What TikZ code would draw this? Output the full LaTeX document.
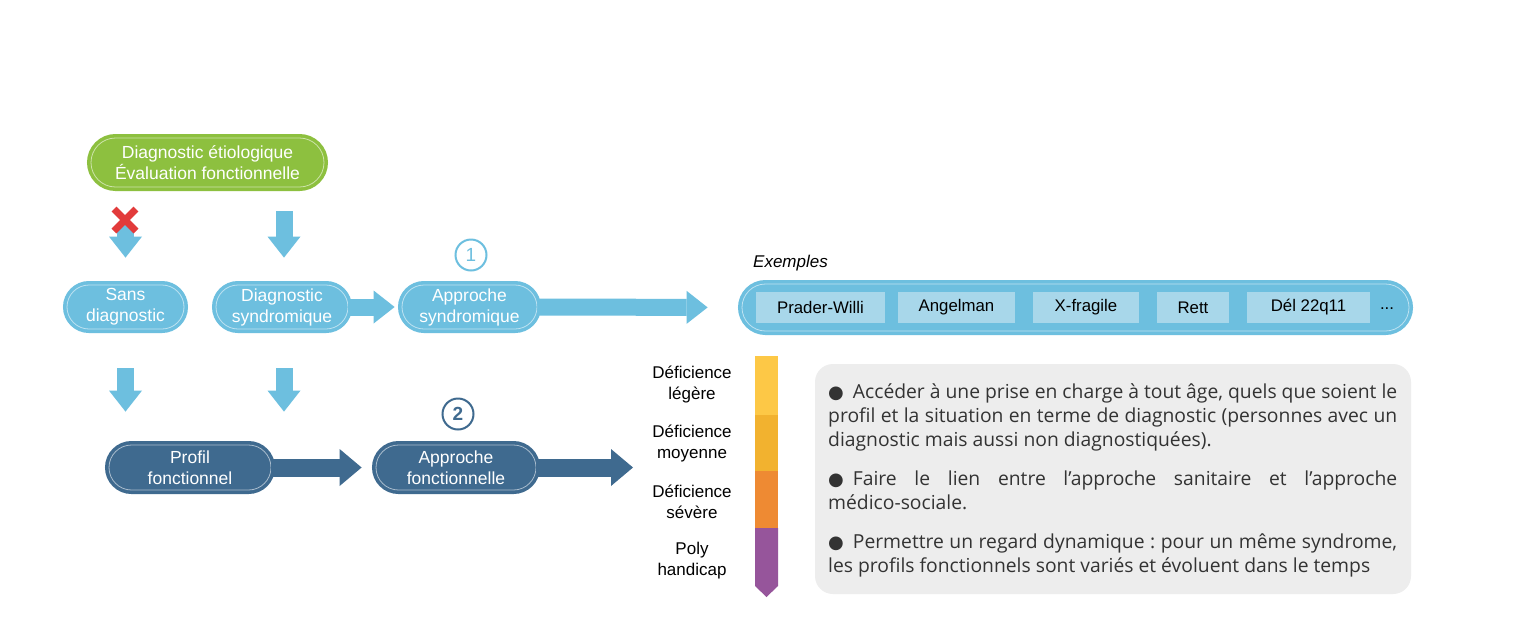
\documentclass[tikz,border=0pt]{standalone}
\usepackage{fontspec}
\setmainfont{Liberation Sans}
\newfontfamily\opensans{Open Sans}
\newfontfamily\dejavu{DejaVu Sans}
\usetikzlibrary{shapes.misc,arrows.meta,calc}
\definecolor{lblue}{HTML}{6DBFDF}
\definecolor{dblue}{HTML}{3F6A8F}
\definecolor{lgreen}{HTML}{8DC03F}
\definecolor{ibox}{HTML}{A8D7EA}
\definecolor{gbox}{HTML}{EDEDED}
\definecolor{xred}{HTML}{E23B3B}
\definecolor{cyel}{HTML}{FDC846}
\definecolor{cgold}{HTML}{F2B22F}
\definecolor{corange}{HTML}{EE8A33}
\definecolor{cpurple}{HTML}{96559B}
\definecolor{txt}{HTML}{333333}
\newcommand\mybullet{{\dejavu\fontsize{18}{18}\selectfont ●}\hspace{9pt}}
\frenchspacing
\begin{document}
\begin{tikzpicture}[x=1pt,y=-1pt,
  pill/.style={rounded rectangle, fill=#1, draw=white!55!#1, line width=0.8pt,
    preaction={draw=#1, line width=8pt}, text=white, align=center,
    font=\fontsize{17.5}{21}\selectfont, inner sep=0pt},
  item/.style={fill=ibox, minimum height=31pt, inner sep=0pt, text=black,
    font=\fontsize{16.8}{19}\selectfont},
  larr/.style={draw=lblue, line width=17pt, -{Triangle[width=33pt,length=21pt,line width=0pt]}},
  darr/.style={draw=dblue, line width=18pt, -{Triangle[width=37pt,length=22pt,line width=0pt]}},
  deflab/.style={align=center, text=black, font=\fontsize{17}{21}\selectfont, inner sep=0pt},
  num/.style={circle, fill=white, line width=2pt, minimum size=31pt, inner sep=0pt,
    font=\fontsize{19}{19}\selectfont}
]
\useasboundingbox[fill=white] (0,0) rectangle (1524,633);

% boxes
\node[pill=lgreen, minimum width=233pt, minimum height=49pt] (g) at (207.5,162.5)
  {Diagnostic étiologique\\Évaluation fonctionnelle};
\node[pill=lblue, minimum width=117pt, minimum height=44pt] (sans) at (125.5,307) {Sans\\diagnostic};
\node[pill=lblue, minimum width=132pt, minimum height=44pt] (dsynd) at (282,307) {Diagnostic\\syndromique};
\node[pill=lblue, minimum width=135pt, minimum height=44pt] (asynd) at (469.5,307) {Approche\\syndromique};
\node[pill=dblue, minimum width=162pt, minimum height=45pt] (profil) at (190,467.5) {Profil\\fonctionnel};
\node[pill=dblue, minimum width=160pt, minimum height=45pt] (afonct) at (456,467.5) {Approche\\fonctionnelle};

% numbers
\node[num, draw=lblue, text=lblue] (n1) at (471,255) {1};
\node[num, draw=dblue, text=dblue] (n2) at (458,414) {\textbf{2}};

% examples
\node[anchor=west, inner sep=0pt, font=\fontsize{17}{20}\selectfont\itshape] (exl) at (753,263) {Exemples};
\node[pill=lblue, minimum width=667pt, minimum height=47pt] (ex) at (1075.5,307.5) {};
\node[item, minimum width=129pt] (pw) at (820.5,307.5) {Prader-Willi};
\node[item, minimum width=117pt] (an) at (956.5,307.5) {Angelman};
\node[item, minimum width=106pt] (xf) at (1086,307.5) {X-fragile};
\node[item, minimum width=72pt] (rt) at (1193,307.5) {Rett};
\node[item, minimum width=123pt] (dl) at (1308.5,307.5) {Dél 22q11};
\node[inner sep=0pt, text=black, font=\fontsize{16.8}{19}\selectfont] (dots) at (1387,309) {...};

% arrows
\draw[larr, shorten <=38pt, shorten >=27pt] (sans.north |- g.south) -- (sans.north);
\draw[larr, shorten <=24pt, shorten >=27pt] ([xshift=2pt]dsynd.north |- g.south) -- ([xshift=2pt]dsynd.north);
\draw[larr, shorten >=7pt] (dsynd.east) -- (asynd.west);
\draw[larr, shorten >=34pt] (asynd.east) -- (ex.west);
\draw[larr, shorten <=39pt, shorten >=33pt] (sans.south) -- (sans.south |- profil.north);
\draw[larr, shorten <=39pt, shorten >=33pt] ([xshift=2pt]dsynd.south) -- ([xshift=2pt]dsynd.south |- profil.north);
\draw[darr, shorten >=14pt] (profil.east) -- (afonct.west);
\coordinate (tipf) at (633,467.5);
\draw[darr] (afonct.east) -- (tipf);

% red cross
\draw[xred, line width=7pt] (114,209) -- (136,231);
\draw[xred, line width=7pt] (136,209) -- (114,231);

% severity labels
\node[deflab] (d1) at (692,384) {Déficience\\légère};
\node[deflab] (d2) at (692,443) {Déficience\\moyenne};
\node[deflab] (d3) at (692,502) {Déficience\\sévère};
\node[deflab] (d4) at (692,561) {Poly\\handicap};

% colour bar
\fill[cyel] (755,356) rectangle (778,415);
\fill[cgold] (755,415) rectangle (778,471);
\fill[corange] (755,471) rectangle (778,528);
\fill[cpurple] (755,528) -- (778,528) -- (778,586) -- (766.5,597) -- (755,586) -- cycle;

% grey box
\node[fill=gbox, rounded corners=18pt, minimum width=596pt, minimum height=230pt, inner sep=0pt] (gb) at (1113,479) {};
\node[anchor=north west, inner sep=0pt, text=txt, text width=569pt, align=left,
  font=\opensans\fontsize{19.3}{24}\selectfont] (body) at (828,384) {%
\spaceskip=0pt\xspaceskip=0pt\relax
\makebox[569pt][s]{\mybullet Accéder à une prise en charge à tout âge, quels que soient le}\\
\makebox[569pt][s]{profil et la situation en terme de diagnostic (personnes avec un}\\
diagnostic mais aussi non diagnostiquées).\\[15pt]
\makebox[569pt][s]{\mybullet Faire le lien entre l’approche sanitaire et l’approche}\\
médico-sociale.\\[15pt]
\makebox[569pt][s]{\mybullet Permettre un regard dynamique : pour un même syndrome,}\\
les profils fonctionnels sont variés et évoluent dans le temps};
\end{tikzpicture}
\end{document}
